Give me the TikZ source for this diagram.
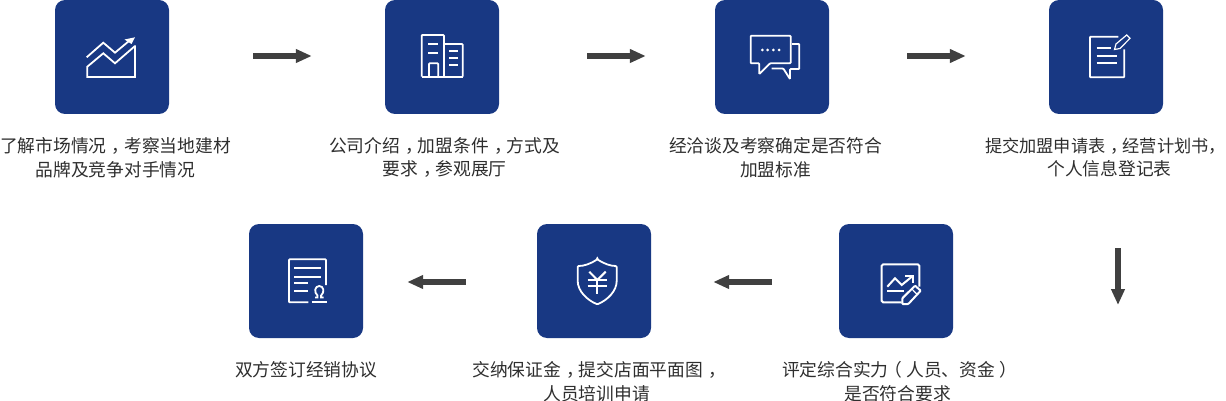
\documentclass[tikz,border=0pt]{standalone}
\usepackage{fontspec}
\setmainfont{Noto Sans CJK SC}
\usetikzlibrary{arrows.meta}
\definecolor{boxblue}{HTML}{183883}
\definecolor{arrowgray}{HTML}{404040}
\definecolor{textgray}{HTML}{2E2E2E}
\newcommand{\midcomma}{\kern.3em，\kern-.3em}
\newcommand{\midopen}{\kern-.25em（\kern.25em}
\newcommand{\midclose}{\kern.25em）\kern-.25em}
\begin{document}
\begin{tikzpicture}[x=1pt,y=-1pt]
  \tikzset{stepbox/.style = {fill=boxblue, rounded corners=10pt, minimum size=114pt, inner sep=0pt}}
  \tikzset{steptext/.style = {align=center, text=textgray, font=\fontsize{17.75pt}{23.5pt}\selectfont, inner sep=0pt}}
  \tikzset{flow/.style = {draw=arrowgray, line width=5.5pt, -{Triangle[length=16pt,width=13pt]}}}
  \tikzset{icon/.style = {draw=white, line width=1.8pt, rounded corners=0.8pt}}

  \useasboundingbox (0,0) rectangle (1226,401);

  % Boxes
  \node [stepbox] (market) at (112,57) {};
  \node [stepbox] (company) at (442,57) {};
  \node [stepbox] (talks) at (772,57) {};
  \node [stepbox] (apply) at (1106,57) {};
  \node [stepbox] (assess) at (896,281) {};
  \node [stepbox] (deposit) at (594,281) {};
  \node [stepbox] (sign) at (306,281) {};

  % Labels
  \node [steptext] (markettext) at (115.5,157.5) {了解市场情况\midcomma 考察当地建材\\品牌及竞争对手情况};
  \node [steptext] (companytext) at (444.5,157.5) {公司介绍\midcomma 加盟条件\midcomma 方式及\\要求\midcomma 参观展厅};
  \node [steptext] (talkstext) at (775.5,157.5) {经洽谈及考察确定是否符合\\加盟标准};
  \node [steptext] (applytext) at (1109.5,157.5) {\makebox[249pt][l]{\fontsize{17.2pt}{23.5pt}\selectfont 提交加盟申请表\midcomma 经营计划书，}\\个人信息登记表};
  \node [steptext] (assesstext) at (897.5,381.5) {评定综合实力\midopen 人员、资金\midclose\\是否符合要求};
  \node [steptext] (deposittext) at (596.5,381.5) {交纳保证金\midcomma 提交店面平面图\midcomma \\人员培训申请};
  \node [steptext] (signtext) at (306,370) {双方签订经销协议};

  % Arrows
  \coordinate (downstart) at (1118,248);
  \coordinate (downend) at (1118,305);
  \draw [flow, shorten <=84pt, shorten >=73pt] ([yshift=1pt]market.east) -- ([yshift=1pt]company.west);
  \draw [flow, shorten <=88pt, shorten >=69pt] ([yshift=1pt]company.east) -- ([yshift=1pt]talks.west);
  \draw [flow, shorten <=78pt, shorten >=83pt] ([yshift=1pt]talks.east) -- ([yshift=1pt]apply.west);
  \draw [flow] (downstart) -- (downend);
  \draw [flow, shorten <=67pt, shorten >=62pt] ([yshift=-1pt]assess.west) -- ([yshift=-1pt]deposit.east);
  \draw [flow, shorten <=71pt, shorten >=44pt] ([yshift=-1pt]deposit.west) -- ([yshift=-1pt]sign.east);

  % Chart
  \draw [icon, rounded corners=0pt] (86.7,57.3) -- (103.3,42.7) -- (115,52.7) -- (129,41);
  \fill [white] (135,37.3) -- (124.5,39.5) -- (131.5,44) -- cycle;
  \draw [icon, rounded corners=0pt] (135,45.5) -- (135,77) -- (87.3,77) -- (87.3,66.7) -- (103.3,53.3) -- (115,63.3) -- (135,46);

  % Buildings
  \draw [icon] (421.7,76.7) -- (421.7,35) -- (444,35) -- (444,76.7);
  \draw [icon] (444,44) -- (462.7,44) -- (462.7,76.7);
  \draw [icon, rounded corners=0pt] (421.7,76.7) -- (463.4,76.7);
  \draw [icon] (429,76.7) -- (429,63.3) -- (438.3,63.3) -- (438.3,76.7);
  \foreach \winy in {44.3,52.7}
    \draw [icon] (428.3,\winy) -- (438.3,\winy);
  \foreach \winy in {51,57.7,64.7}
    \draw [icon] (449,\winy) -- (458.3,\winy);

  % Speech bubbles
  \draw [icon] (770,63.3) -- (759.3,74) -- (759.3,63.3) -- (750.7,63.3) -- (750.7,35.7) -- (790.7,35.7) -- (790.7,63.3) -- cycle;
  \draw [icon] (792,44) -- (799.3,44) -- (799.3,69) -- (790,69) -- (790,79) -- (783.3,68.5) -- (771.7,68.5);
  \foreach \dotx in {762.3,767.7,773.3,779}
    \fill [white] (\dotx,50) circle (1.5);

  % Form
  \draw [icon] (1118.3,36.7) -- (1090,36.7) -- (1090,77.3) -- (1124.3,77.3) -- (1124.3,49.3);
  \draw [icon, rounded corners=0pt] (1096.7,47.7) -- (1110.7,47.7);
  \draw [icon, rounded corners=0pt] (1096.7,56) -- (1116.7,56);
  \draw [icon, rounded corners=0pt] (1096.7,63.3) -- (1116.7,63.3);
  \draw [icon, line width=1.2pt, rounded corners=0pt] (1114.5,49.5) -- (1116,44) -- (1126.7,35) -- (1130,38.3) -- (1120,48.5) -- cycle;

  % Seal document
  \draw [icon] (308.3,302.3) -- (289,302.3) -- (289,259.3) -- (326,259.3) -- (326,285);
  \foreach \liney/\linex in {268.3/321,276.7/321,283.3/308.3,290.7/308.3}
    \draw [icon, rounded corners=0pt] (294.3,\liney) -- (\linex,\liney);
  \draw [icon, rounded corners=0pt] (311.7,301.7) -- (327,301.7);
  \draw [icon, rounded corners=0pt] (315,297.5) -- (317.5,297.5) -- (317.5,295.5) .. controls (313.5,292) and (315,286) .. (319.3,286) .. controls (323.6,286) and (325,292) .. (321.1,295.5) -- (321.1,297.5) -- (323.6,297.5);

  % Shield
  \draw [icon, rounded corners=1pt] (597.3,259.3) .. controls (590,264) and (584,266) .. (577.7,266) -- (577.7,280) .. controls (577.7,291) and (587,300) .. (597.3,304.3) .. controls (607.6,300) and (616.7,291) .. (616.7,280) -- (616.7,266) .. controls (610.6,266) and (604.6,264) .. cycle;
  \draw [icon, rounded corners=0pt, line width=2pt] (589.3,271.7) -- (597.3,280) -- (605.7,271.7);
  \draw [icon, rounded corners=0pt, line width=2pt] (587.7,280) -- (606.7,280);
  \draw [icon, rounded corners=0pt, line width=2pt] (587.7,285.7) -- (606.7,285.7);
  \draw [icon, rounded corners=0pt, line width=2pt] (597.3,280) -- (597.3,294);

  % Chart and pencil
  \draw [icon, rounded corners=1.5pt, line width=2pt] (901.7,302.3) -- (881.7,302.3) -- (881.7,264.3) -- (919.3,264.3) -- (919.3,286.7);
  \draw [icon, rounded corners=0pt, line width=2pt] (887.3,286.7) -- (895,278.3) -- (901.7,285) -- (912.7,276);
  \draw [icon, rounded corners=0pt, line width=2pt] (905,276) -- (913.3,276) -- (913.3,283.3);
  \draw [icon, rounded corners=0pt, line width=2pt] (887.3,291) -- (904,291);
  \draw [icon, line width=2pt] (902.3,298.3) -- (915,285.7) -- (920.7,290.7) -- (908.3,304) -- (902.3,304) -- cycle;
  \draw [icon, rounded corners=0pt, line width=1.2pt] (911.7,288.8) -- (916.7,294);
\end{tikzpicture}
\end{document}
